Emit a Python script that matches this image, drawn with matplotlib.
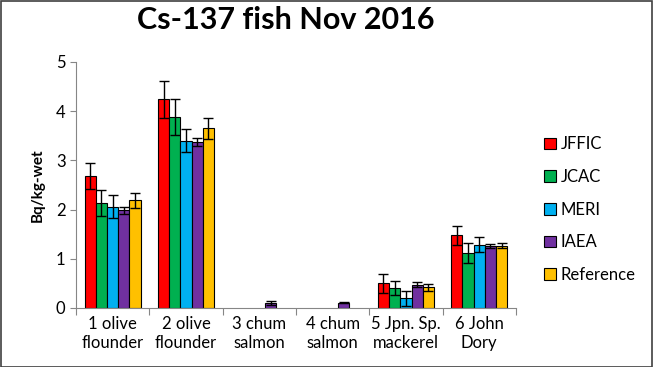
import numpy as np
import matplotlib.pyplot as plt
from matplotlib.patches import Rectangle

plt.rcParams['font.family'] = ['Lato', 'DejaVu Sans']

categories = ["1 olive\nflounder", "2 olive\nflounder", "3 chum\nsalmon",
              "4 chum\nsalmon", "5 Jpn. Sp.\nmackerel", "6 John\nDory"]
labs = ["JFFIC", "JCAC", "MERI", "IAEA", "Reference"]
colors = ["#ff0000", "#00b050", "#00b0f0", "#7030a0", "#ffc000"]

# nan = no result for that lab
values = {
    "JFFIC":     [2.68, 4.24, np.nan, np.nan, 0.50, 1.48],
    "JCAC":      [2.13, 3.88, np.nan, np.nan, 0.40, 1.12],
    "MERI":      [2.06, 3.40, np.nan, np.nan, 0.20, 1.29],
    "IAEA":      [1.99, 3.37, 0.10, 0.11, 0.47, 1.26],
    "Reference": [2.19, 3.65, np.nan, np.nan, 0.42, 1.27],
}
errors = {
    "JFFIC":     [0.26, 0.38, np.nan, np.nan, 0.20, 0.19],
    "JCAC":      [0.26, 0.36, np.nan, np.nan, 0.14, 0.20],
    "MERI":      [0.24, 0.23, np.nan, np.nan, 0.15, 0.15],
    "IAEA":      [0.07, 0.08, 0.04, 0.01, 0.05, 0.04],
    "Reference": [0.15, 0.21, np.nan, np.nan, 0.07, 0.06],
}

fig = plt.figure(figsize=(6.53, 3.67), dpi=100)
ax = fig.add_axes([0.1164, 0.1608, 0.6736, 0.6703])

x = np.arange(len(categories))
w = 0.153
for i, lab in enumerate(labs):
    pos = x + (i - 2) * w
    ax.bar(pos, values[lab], w, color=colors[i], edgecolor="black",
           linewidth=0.8, label=lab, zorder=2)
    ax.errorbar(pos, values[lab], yerr=errors[lab], fmt="none",
                ecolor="black", elinewidth=1, capsize=3.5, capthick=1, zorder=3)

ax.set_xlim(-0.5, len(categories) - 0.5)
ax.set_ylim(0, 5)
ax.set_yticks(range(6))
ax.set_xticks(np.arange(len(categories) + 1) - 0.5, minor=False)
ax.set_xticklabels([])
ax.set_xticks(x, minor=True)
ax.set_xticklabels(categories, minor=True, fontsize=12)
ax.tick_params(axis="x", which="minor", length=0, pad=6)
ax.tick_params(axis="x", which="major", length=5, color="#868686", direction="out")
ax.tick_params(axis="y", length=4, color="#868686", labelsize=12, direction="out")
for s in ["top", "right"]:
    ax.spines[s].set_visible(False)
for s in ["left", "bottom"]:
    ax.spines[s].set_color("#868686")

ax.set_ylabel("Bq/kg-wet", fontsize=11, fontweight="bold", labelpad=8)
fig.suptitle("Cs-137 fish Nov 2016", fontsize=22, fontweight="bold", x=0.438, y=0.985)

ax.legend(loc="center left", bbox_to_anchor=(1.03, 0.399), frameon=False,
          fontsize=12, handlelength=0.7, handleheight=0.7,
          handletextpad=0.3, labelspacing=1.0)

fig.patches.append(Rectangle((0.001, 0.001), 0.997, 0.996, transform=fig.transFigure,
                             fill=False, edgecolor="#404040", linewidth=1.2))

fig.savefig("out.png", dpi=100)
